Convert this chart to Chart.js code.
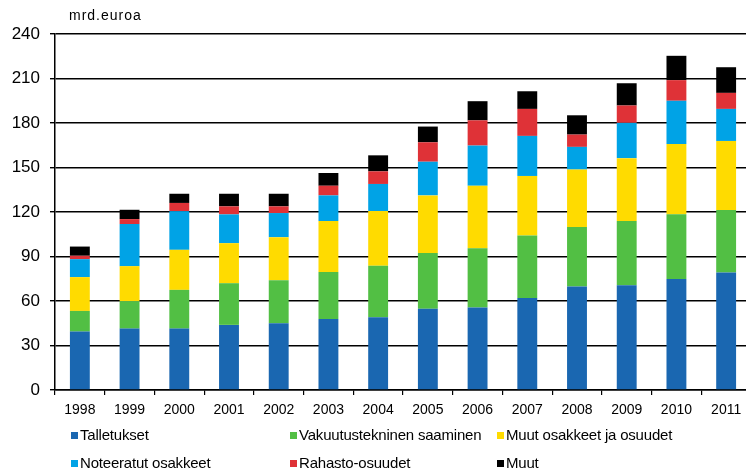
<!DOCTYPE html>
<html>
<head>
<meta charset="utf-8">
<script src="https://cdn.jsdelivr.net/npm/chart.js@4"></script>
<style>
  html, body { margin: 0; padding: 0; background: #fff; }
  #wrap { position: relative; width: 746px; height: 471px; overflow: hidden; }
  #chart { position: absolute; left: 0; top: 0; }
  #unit { position: absolute; left: 69px; top: 7px; font: 14px "Liberation Sans", Arial, sans-serif; letter-spacing: 1px; color: #000; }
  .leg { position: absolute; font: 15px "Liberation Sans", Arial, sans-serif; color: #000; white-space: nowrap; letter-spacing: -0.2px; }
  .leg span { display: inline-block; width: 7px; height: 7px; margin-right: 2px; vertical-align: 1px; }
</style>
</head>
<body>
<div id="wrap">
  <canvas id="chart" width="752" height="471"></canvas>
  <div id="unit">mrd.euroa</div>
  <div id="legend"></div>
</div>
<script>
const years = ['1998', '1999', '2000', '2001', '2002', '2003', '2004', '2005', '2006', '2007', '2008', '2009', '2010', '2011'];

const talletukset  = [39.4, 41.4, 41.4, 43.9, 45.0, 47.9, 49.1, 54.7, 55.6, 62.1, 69.8, 70.7, 74.9, 79.2];
const vakuutus     = [13.9, 18.5, 26.1, 28.1, 29.0, 31.6, 34.6, 37.6, 40.0, 42.1, 40.1, 43.2, 43.5, 42.1];
const muutOsakkeet = [22.8, 23.6, 27.0, 27.0, 29.0, 34.4, 36.9, 38.9, 42.1, 40.1, 38.7, 42.4, 47.5, 46.6];
const noteeratut   = [12.1, 28.4, 26.1, 19.4, 16.3, 17.3, 18.3, 22.7, 27.1, 27.0, 15.3, 23.8, 29.1, 21.6];
const rahasto      = [2.3, 3.3, 5.5, 5.4, 4.5, 6.5, 8.5, 13.1, 17.0, 18.2, 8.3, 11.7, 13.9, 10.8];
const muut         = [6.2, 6.3, 6.2, 8.5, 8.5, 8.6, 10.8, 10.6, 12.9, 11.9, 13.0, 15.0, 16.4, 17.3];

const seriesNames = ['Talletukset', 'Vakuutustekninen saaminen', 'Muut osakkeet ja osuudet', 'Noteeratut osakkeet', 'Rahasto-osuudet', 'Muut'];
const seriesData = [talletukset, vakuutus, muutOsakkeet, noteeratut, rahasto, muut];
const seriesColors = ['#1a67b1', '#52bf44', '#ffdb00', '#00a3e6', '#df3237', '#000000'];
const yTicks = [0, 30, 60, 90, 120, 150, 180, 210, 240];

const ctx = document.getElementById('chart').getContext('2d');
new Chart(ctx, {
    type: 'bar',
    data: {
        labels: years,
        datasets: seriesNames.map((name, i) => ({
            label: name,
            data: seriesData[i],
            backgroundColor: seriesColors[i],
            borderWidth: 0,
            barPercentage: 0.4,
            categoryPercentage: 1
        }))
    },
    options: {
        responsive: false,
        animation: false,
        layout: { padding: { top: 34, right: 1, bottom: 51, left: 0 } },
        plugins: { legend: { display: false }, tooltip: { enabled: false } },
        scales: {
            x: {
                stacked: true,
                afterFit: function (s) { s.height = 30; },
                grid: { drawOnChartArea: false, drawTicks: true, tickLength: 5, color: '#000', lineWidth: 1.2 },
                border: { color: '#000', width: 1.5 },
                ticks: { color: '#000', font: { family: '"Liberation Sans", Arial, sans-serif', size: 14 }, padding: 7, maxRotation: 0 }
            },
            y: {
                stacked: true,
                min: 0,
                max: 240,
                afterFit: function (s) { s.width = 55; },
                afterBuildTicks: function (s) { s.ticks = yTicks.map(v => ({ value: v })); },
                grid: { color: '#000', lineWidth: 1.4, tickLength: 5 },
                border: { color: '#000', width: 1.5 },
                ticks: { color: '#000', font: { family: '"Liberation Sans", Arial, sans-serif', size: 17 }, padding: 10 }
            }
        }
    }
});

// legend in three columns, two rows
const legPos = [[71, 426], [290, 426], [497, 426], [71, 454], [290, 454], [497, 454]];
const legend = document.getElementById('legend');
seriesNames.forEach((name, i) => {
    const d = document.createElement('div');
    d.className = 'leg';
    d.style.left = legPos[i][0] + 'px';
    d.style.top = legPos[i][1] + 'px';
    d.innerHTML = '<span style="background:' + seriesColors[i] + '"></span>' + name;
    legend.appendChild(d);
});
</script>
</body>
</html>
